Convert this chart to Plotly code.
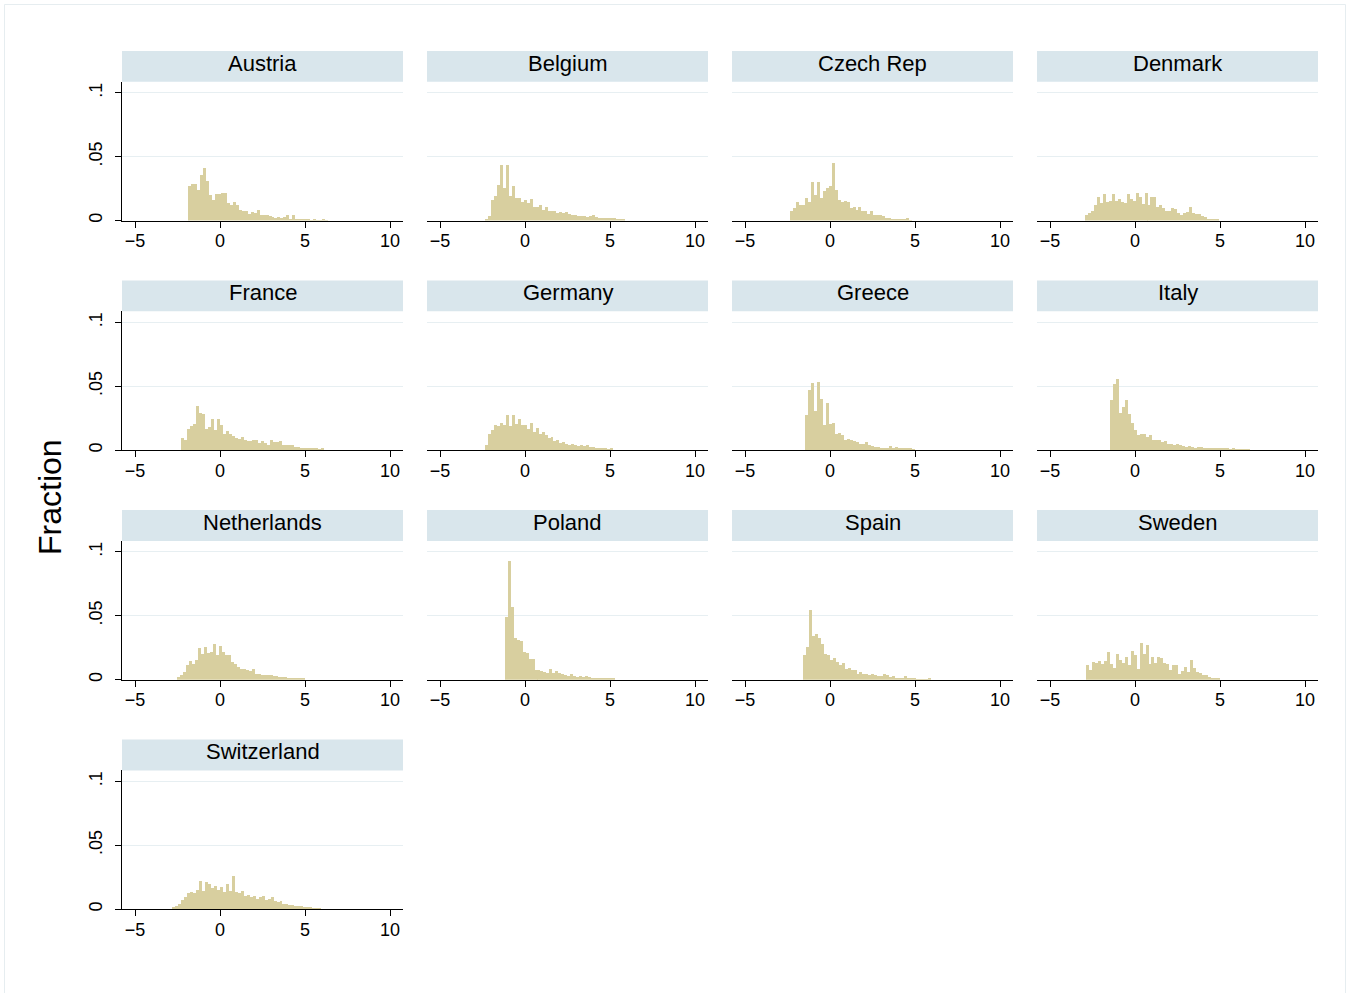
import plotly.graph_objects as go

# Histogram of a standardised variable by country (fraction of observations per bin)
BIN_WIDTH = 0.175

panel_names = ["Austria", "Belgium", "Czech Rep", "Denmark",
               "France", "Germany", "Greece", "Italy",
               "Netherlands", "Poland", "Spain", "Sweden",
               "Switzerland"]

# left edge of the first non-empty bin in each panel
first_bin = [-1.87, -2.35, -2.35, -2.94,
             -2.29, -2.35, -1.45, -1.45,
             -2.51, -1.19, -1.59, -2.88,
             -2.80]

austria = [0.027, 0.029, 0.029, 0.024, 0.036, 0.041, 0.031, 0.020, 0.016, 0.021,
           0.021, 0.022, 0.022, 0.014, 0.0125, 0.015, 0.012, 0.0086, 0.008, 0.008,
           0.0055, 0.0065, 0.006, 0.0086, 0.0047, 0.0047, 0.0042, 0.0034, 0.0029, 0.0021,
           0.0029, 0.0021, 0.0029, 0.0047, 0.0008, 0.0047, 0.0013, 0.0008, 0.0008, 0.0008,
           0.0008, 0.0005, 0.0013, 0.0005, 0.0005, 0.0013, 0.0005]
belgium = [0.0013, 0.0034, 0.016, 0.019, 0.028, 0.044, 0.0255, 0.044, 0.019, 0.027,
           0.018, 0.018, 0.015, 0.016, 0.014, 0.017, 0.0104, 0.011, 0.012, 0.0086,
           0.011, 0.0078, 0.0073, 0.0078, 0.006, 0.0068, 0.006, 0.0065, 0.0052, 0.0047,
           0.0042, 0.0039, 0.0034, 0.0036, 0.0031, 0.0036, 0.0047, 0.0031, 0.0021, 0.0021,
           0.0023, 0.0021, 0.0018, 0.0021, 0.0013, 0.0013, 0.001]
czech_rep = [0.0073, 0.0099, 0.015, 0.0125, 0.012, 0.0177, 0.015, 0.030, 0.020, 0.030,
             0.0177, 0.0234, 0.0255, 0.0268, 0.045, 0.024, 0.0164, 0.015, 0.0156, 0.015,
             0.0099, 0.0104, 0.0086, 0.0104, 0.0073, 0.0078, 0.0052, 0.0078, 0.0047, 0.0042,
             0.0042, 0.0034, 0.0021, 0.0021, 0.0016, 0.0016, 0.0016, 0.0008, 0.0008, 0.0021,
             0.0003]
denmark = [0.0042, 0.006, 0.0078, 0.012, 0.0182, 0.0138, 0.0208, 0.0146, 0.0156, 0.0208,
           0.0151, 0.0172, 0.0146, 0.0138, 0.0208, 0.0172, 0.0151, 0.0216, 0.0182, 0.013,
           0.0216, 0.0125, 0.0182, 0.0182, 0.0104, 0.012, 0.0099, 0.0073, 0.0078, 0.0099,
           0.0094, 0.006, 0.0047, 0.006, 0.0068, 0.0104, 0.006, 0.0052, 0.0052, 0.0034,
           0.0026, 0.0016, 0.0016, 0.001, 0.0013]
france = [0.0091, 0.0073, 0.0164, 0.0185, 0.0203, 0.0346, 0.0289, 0.0281, 0.0159, 0.0177,
          0.0242, 0.0151, 0.0242, 0.0195, 0.0125, 0.0143, 0.0125, 0.0107, 0.0091, 0.0086,
          0.0099, 0.0073, 0.0065, 0.0065, 0.0073, 0.0073, 0.0055, 0.0065, 0.0055, 0.0039,
          0.0073, 0.006, 0.006, 0.0065, 0.0039, 0.0034, 0.0039, 0.0034, 0.0021, 0.0021,
          0.0008, 0.0013, 0.0013, 0.0008, 0.0008, 0.0008, 0.0005, 0.0008]
germany = [0.0034, 0.0125, 0.0151, 0.019, 0.0185, 0.0211, 0.019, 0.0273, 0.0185, 0.0268,
           0.0203, 0.0242, 0.0195, 0.019, 0.0159, 0.0211, 0.0138, 0.0169, 0.0125, 0.0138,
           0.0112, 0.0091, 0.0099, 0.0065, 0.0073, 0.0055, 0.006, 0.0047, 0.0039, 0.0047,
           0.0034, 0.0029, 0.0039, 0.0029, 0.0034, 0.0021, 0.0021, 0.0013, 0.0013, 0.0008,
           0.0008, 0.0005, 0.001]
greece = [0.0268, 0.0464, 0.052, 0.0307, 0.0529, 0.0398, 0.019, 0.0365, 0.0203, 0.0208,
          0.0125, 0.013, 0.0112, 0.0073, 0.0086, 0.0078, 0.0068, 0.006, 0.0047, 0.0047,
          0.006, 0.0034, 0.0026, 0.0021, 0.0021, 0.0016, 0.0016, 0.0016, 0.0026, 0.0016,
          0.0021, 0.001, 0.001, 0.0016, 0.0008, 0.0008, 0.0005]
italy = [0.039, 0.0516, 0.0555, 0.0286, 0.0333, 0.039, 0.0281, 0.0208, 0.0151, 0.0112,
         0.0125, 0.012, 0.0099, 0.0112, 0.0078, 0.0073, 0.0078, 0.006, 0.0068, 0.0042,
         0.0047, 0.0034, 0.0042, 0.0034, 0.0026, 0.0021, 0.0026, 0.0021, 0.0016, 0.0021,
         0.0021, 0.0016, 0.001, 0.001, 0.001, 0.0008, 0.0016, 0.001, 0.0016, 0.0008,
         0.0005, 0.0008, 0.0005, 0.0005, 0.0005, 0.0003, 0.0005]
netherlands = [0.0021, 0.0034, 0.006, 0.0112, 0.0143, 0.0125, 0.0151, 0.0247, 0.0203, 0.0255,
               0.0211, 0.0216, 0.0281, 0.0195, 0.0263, 0.0216, 0.0195, 0.019, 0.0138, 0.0125,
               0.0099, 0.0086, 0.0086, 0.0073, 0.0065, 0.0081, 0.0047, 0.0047, 0.0039, 0.0039,
               0.0034, 0.0034, 0.0029, 0.0026, 0.0023, 0.0023, 0.0018, 0.0016, 0.0013, 0.0013,
               0.0008, 0.0008, 0.0008]
poland = [0.049, 0.093, 0.057, 0.033, 0.031, 0.030, 0.0216, 0.021, 0.0164, 0.0164,
          0.0078, 0.0073, 0.0068, 0.006, 0.0052, 0.0086, 0.0052, 0.0068, 0.0052, 0.0042,
          0.0034, 0.0026, 0.0047, 0.0026, 0.0021, 0.0026, 0.0021, 0.0031, 0.0021, 0.0016,
          0.0016, 0.0013, 0.001, 0.0013, 0.001, 0.0008, 0.0008]
spain = [0.019, 0.026, 0.0547, 0.0346, 0.0359, 0.0328, 0.0276, 0.0203, 0.019, 0.0151,
         0.0172, 0.0138, 0.0112, 0.013, 0.0086, 0.0094, 0.0073, 0.0078, 0.0047, 0.006,
         0.0042, 0.0047, 0.0036, 0.0042, 0.0034, 0.0026, 0.0026, 0.0042, 0.0034, 0.0021,
         0.0026, 0.0016, 0.0016, 0.0016, 0.0026, 0.0016, 0.0008, 0.001, 0.0005, 0.0005,
         0.0003, 0.0003, 0.001]
sweden = [0.0117, 0.0073, 0.0138, 0.0133, 0.0143, 0.0125, 0.0143, 0.0216, 0.0125, 0.0091,
          0.0203, 0.0151, 0.0133, 0.0177, 0.0117, 0.0221, 0.0195, 0.0086, 0.0289, 0.0203,
          0.0268, 0.0125, 0.0177, 0.0133, 0.0177, 0.0169, 0.0133, 0.0125, 0.0073, 0.0117,
          0.0112, 0.0047, 0.0065, 0.0099, 0.006, 0.0151, 0.0091, 0.006, 0.0055, 0.0034,
          0.0034, 0.0021, 0.0013, 0.0013, 0.0008]
switzerland = [0.001, 0.002, 0.004, 0.007, 0.009, 0.012, 0.013, 0.012, 0.015, 0.022,
               0.014, 0.021, 0.019, 0.016, 0.018, 0.015, 0.017, 0.013, 0.019, 0.014,
               0.026, 0.013, 0.012, 0.014, 0.010, 0.011, 0.009, 0.010, 0.008, 0.009,
               0.010, 0.007, 0.008, 0.009, 0.006, 0.005, 0.006, 0.004, 0.004, 0.003,
               0.003, 0.002, 0.002, 0.002, 0.001, 0.001, 0.001, 0.0005, 0.0005, 0.0005]

panel_heights = [austria, belgium, czech_rep, denmark, france, germany, greece, italy,
                 netherlands, poland, spain, sweden, switzerland]

x_tick_vals = [-5, 0, 5, 10]
y_tick_vals = [0, 0.05, 0.1]
y_tick_text = ["0", ".05", ".1"]

# ---- layout geometry (pixels) ----
W, H = 1350, 993
col_px = [(122, 403), (427, 708), (732, 1013), (1037, 1318)]
row_px = [(82, 221), (312, 451), (542, 681), (772, 911)]
STRIP_H = 31
X_RANGE = [-5 - 13 / 17, 10 + 13 / 17]
Y_RANGE = [0, (221 - 82) / 1280]

BAR_FILL = "#d8cf9f"
STRIP_FILL = "#d9e6ec"
GRID = "#e7eff2"
FONT = "Liberation Sans, Arial, sans-serif"

fig = go.Figure()
layout = dict(
    width=W, height=H, autosize=False,
    margin=dict(l=0, r=0, t=0, b=0),
    paper_bgcolor="white", plot_bgcolor="white",
    showlegend=False, bargap=0,
    font=dict(family=FONT, color="black", size=18),
)
shapes = []
annotations = []

for i, (name, heights) in enumerate(zip(panel_names, panel_heights)):
    r, c = divmod(i, 4)
    n = i + 1
    xa = "x" if n == 1 else f"x{n}"
    ya = "y" if n == 1 else f"y{n}"
    x0p, x1p = col_px[c]
    y0p, y1p = row_px[r]

    fig.add_trace(go.Bar(
        y=heights, x0=first_bin[i] + BIN_WIDTH / 2, dx=BIN_WIDTH, width=BIN_WIDTH,
        marker=dict(color=BAR_FILL, line=dict(width=0)),
        xaxis=xa, yaxis=ya, hoverinfo="skip",
    ))

    layout["xaxis" if n == 1 else f"xaxis{n}"] = dict(
        domain=[x0p / W, x1p / W], anchor=ya, range=X_RANGE,
        tickmode="array", tickvals=x_tick_vals,
        ticks="outside", ticklen=6, tickwidth=1, tickcolor="black",
        ticklabelstandoff=-2,
        showline=True, linecolor="black", linewidth=1,
        showgrid=False, zeroline=False,
        tickfont=dict(size=18, family=FONT, color="black"),
        fixedrange=True,
    )
    first_col = c == 0
    layout["yaxis" if n == 1 else f"yaxis{n}"] = dict(
        domain=[1 - y1p / H, 1 - y0p / H], anchor=xa, range=Y_RANGE,
        tickmode="array", tickvals=y_tick_vals, ticktext=y_tick_text,
        ticks="outside" if first_col else "", ticklen=6, tickwidth=1, tickcolor="black",
        showticklabels=first_col, tickangle=-90, ticklabelstandoff=6,
        showline=first_col, linecolor="black", linewidth=1,
        showgrid=True, gridcolor=GRID, gridwidth=1, zeroline=False,
        tickfont=dict(size=18, family=FONT, color="black"),
        fixedrange=True,
    )

    # title strip above each panel
    shapes.append(dict(type="rect", xref="paper", yref="paper",
                       x0=x0p / W, x1=x1p / W,
                       y0=1 - y0p / H, y1=1 - (y0p - STRIP_H) / H,
                       fillcolor=STRIP_FILL, line=dict(width=0), layer="below"))
    annotations.append(dict(text=name, xref="paper", yref="paper",
                            x=(x0p + x1p) / 2 / W, y=1 - (y0p - STRIP_H / 2 - 3) / H,
                            xanchor="center", yanchor="middle", showarrow=False,
                            font=dict(size=22, family=FONT, color="black")))

annotations.append(dict(text="Fraction", xref="paper", yref="paper",
                        x=50 / W, y=1 - 498 / H, textangle=-90,
                        xanchor="center", yanchor="middle", showarrow=False,
                        font=dict(size=32, family=FONT, color="black")))

# outer frame of the graph region
shapes.append(dict(type="rect", xref="paper", yref="paper",
                   x0=4.5 / W, x1=1345.5 / W, y0=1 - 1000 / H, y1=1 - 4.5 / H,
                   line=dict(color="#e6edf0", width=1), fillcolor="rgba(0,0,0,0)"))

layout["shapes"] = shapes
layout["annotations"] = annotations
fig.update_layout(**layout)
fig.write_html("out.html")
